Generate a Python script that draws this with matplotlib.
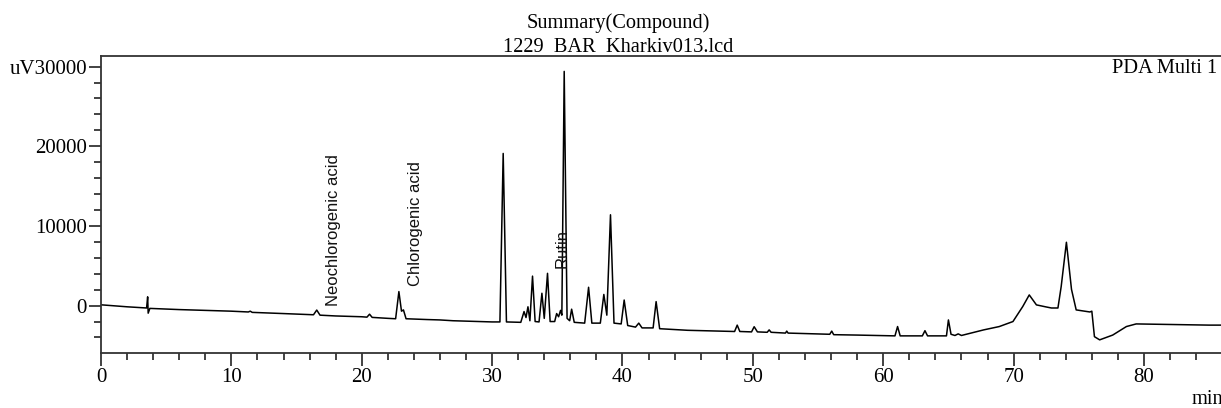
import numpy as np
import matplotlib
matplotlib.use("Agg")
import matplotlib.pyplot as plt
from matplotlib.ticker import FixedLocator, MultipleLocator

# chromatogram trace (min, uV)
time_min = [
    0.0, 2.0, 3.5, 3.58, 3.62, 3.75, 6.0, 10.0, 11.3, 11.45, 11.6, 14.0,
    16.3, 16.55, 16.8, 18.0, 20.0, 20.4, 20.6, 20.8, 22.0, 22.6, 22.85, 23.05,
    23.2, 23.4, 25.0, 26.0, 27.0, 28.0, 30.0, 30.6, 30.85, 31.1, 32.2, 32.45,
    32.6, 32.75, 32.9, 33.1, 33.3, 33.6, 33.82, 34.0, 34.25, 34.45, 34.8, 34.95,
    35.1, 35.25, 35.35, 35.53, 35.75, 35.95, 36.1, 36.3, 37.1, 37.4, 37.65, 38.3,
    38.57, 38.8, 39.08, 39.35, 39.9, 40.13, 40.4, 41.0, 41.25, 41.5, 42.35, 42.58,
    42.85, 45.0, 48.6, 48.8, 49.0, 49.9, 50.1, 50.35, 51.1, 51.25, 51.4, 52.5,
    52.6, 52.7, 55.9, 56.05, 56.2, 58.0, 60.9, 61.1, 61.3, 63.0, 63.2, 63.4,
    64.85, 65.0, 65.2, 65.5, 65.75, 66.0, 67.7, 68.9, 69.95, 70.7, 71.2, 71.75,
    72.5, 72.9, 73.4, 73.65, 74.05, 74.44, 74.8, 75.85, 76.0, 76.2, 76.6, 77.6,
    78.65, 79.4, 85.0, 90.0,
]
signal_uv = [
    100, -150, -300, 1100, -950, -350, -500, -700, -800, -700, -850, -1000,
    -1150, -560, -1200, -1300, -1400, -1450, -1080, -1480, -1600, -1650, 1760, -700,
    -540, -1650, -1750, -1800, -1900, -1950, -2050, -2050, 19100, -2050, -2100, -750,
    -1500, -150, -1900, 3700, -2000, -2050, 1550, -1600, 4050, -2000, -2000, -1000,
    -1400, -600, -1200, 29400, -1600, -1900, -450, -2100, -2200, 2300, -2200, -2200,
    1400, -1200, 11400, -2200, -2300, 700, -2500, -2700, -2200, -2800, -2800, 500,
    -2900, -3100, -3250, -2450, -3250, -3300, -2650, -3300, -3350, -3050, -3350, -3450,
    -3200, -3450, -3600, -3200, -3650, -3700, -3800, -2630, -3800, -3800, -3150, -3800,
    -3800, -1800, -3600, -3750, -3550, -3750, -3050, -2630, -2000, -120, 1340, 90,
    -170, -300, -300, 2400, 7950, 2040, -540, -800, -700, -3900, -4300, -3700,
    -2630, -2300, -2450, -2450,
]

# compound labels
compounds = ["Neochlorogenic acid", "Chlorogenic acid", "Rutin"]
compound_rt = [17.8, 24.1, 35.4]
compound_y = [0, 2400, 4700]

x_major = [0, 10, 20, 30, 40, 50, 60, 70, 80]
y_major = [0, 10000, 20000, 30000]
y_labels = ["0", "10000", "20000", "uV30000"]

serif = "Liberation Serif"
sans = "Liberation Sans"

fig = plt.figure(figsize=(12.21, 4.08), dpi=100)
ax = fig.add_axes([0.0827, 0.1348, 0.961, 0.7279])

ax.plot(time_min, signal_uv, color="black", linewidth=1.1)

for name, rt, yy in zip(compounds, compound_rt, compound_y):
    ax.text(rt, yy, name, rotation=90, ha="center", va="bottom",
            fontsize=12, family=sans, color="#111111")

ax.set_xlim(0, 90)
ax.set_ylim(-5950, 31330)

ax.xaxis.set_major_locator(FixedLocator(x_major))
ax.xaxis.set_minor_locator(MultipleLocator(2))
ax.yaxis.set_major_locator(FixedLocator(y_major))
ax.yaxis.set_minor_locator(MultipleLocator(2000))
ax.set_xticklabels([str(v) for v in x_major])
ax.set_yticklabels(y_labels)

for lab in ax.get_xticklabels() + ax.get_yticklabels():
    lab.set_family(serif)
    lab.set_fontsize(15)

ax.tick_params(which="major", direction="out", length=9, width=1.2,
               color="#222222", pad=1)
ax.tick_params(which="minor", direction="out", length=5, width=1.2,
               color="#222222")
ax.tick_params(axis="x", which="major", pad=2)

for s in ax.spines.values():
    s.set_linewidth(1.3)
    s.set_color("#333333")

fig.text(0.506, 0.931, "Summary(Compound)", ha="center", va="baseline",
         fontsize=14.7, family=serif)
fig.text(0.506, 0.8725, "1229  BAR  Kharkiv013.lcd", ha="center",
         va="baseline", fontsize=14.7, family=serif)
fig.text(0.997, 0.833, "PDA Multi 1", ha="right", va="center",
         fontsize=14.7, family=serif)
fig.text(0.976, 0.01, "min", ha="left", va="baseline",
         fontsize=14.7, family=serif)

fig.savefig("out.png", dpi=100)
